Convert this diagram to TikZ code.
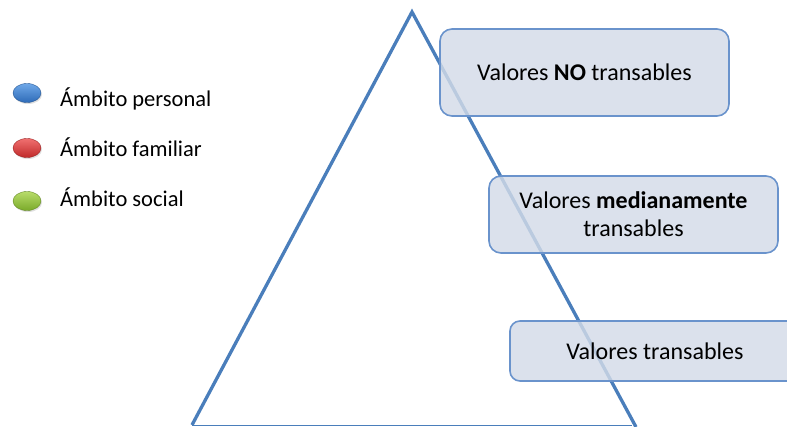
\documentclass[tikz,border=0pt]{standalone}
\usepackage{fontspec}
\setmainfont{Carlito}
\usetikzlibrary{shadows,shapes.geometric}
\definecolor{tri}{HTML}{4A7EBB}
\definecolor{boxfill}{HTML}{D3DBE8}
\definecolor{boxline}{HTML}{6A93CC}
\definecolor{bluetop}{HTML}{6FA8E8}
\definecolor{bluebot}{HTML}{2E6BB8}
\definecolor{redtop}{HTML}{F07070}
\definecolor{redbot}{HTML}{C02A2A}
\definecolor{greentop}{HTML}{B8DC6A}
\definecolor{greenbot}{HTML}{7AAA2A}
\tikzset{
  valbox/.style={draw=boxline, line width=1.6pt, fill=boxfill, fill opacity=0.82, text opacity=1,
    rounded corners=12pt, inner sep=0pt, align=center, font=\fontsize{24}{28}\selectfont},
  ball/.style 2 args={ellipse, minimum width=28pt, minimum height=19pt, inner sep=0pt,
    top color=#1, bottom color=#2, draw=#2!80!black, line width=0.4pt,
    drop shadow={shadow xshift=1pt, shadow yshift=-1.5pt, opacity=0.25}},
  legtext/.style={anchor=west, inner sep=0pt, font=\fontsize{22.5}{26}\selectfont}
}
\begin{document}
\begin{tikzpicture}[x=1pt,y=-1pt]
\useasboundingbox (0,0) rectangle (787,427);
\clip (0,0) rectangle (787,427);
% triangle
\coordinate (apex) at (412,12);
\coordinate (bl) at (192,425);
\coordinate (br) at (636,427);
\coordinate (bl2) at (192,425.5);
\coordinate (br2) at (632,425.5);
\draw[tri, line width=3.3pt, line join=miter] (bl) -- (apex) -- (br);
\draw[tri, line width=1.2pt] (bl2) -- (br2);
% boxes
\node[valbox, minimum width=289pt, minimum height=87pt] (b1) at (584.5,72.5) {Valores \textbf{NO} transables};
\node[valbox, minimum width=289pt, minimum height=77pt] (b2) at (633.5,214.5) {Valores \textbf{medianamente}\\transables};
\node[valbox, minimum width=290pt, minimum height=60pt, rounded corners=10pt] (b3) at (655,351) {Valores transables};
% legend
\node[ball={bluetop}{bluebot}] (lb) at (27,93) {};
\node[ball={redtop}{redbot}] (lr) at (27,148) {};
\node[ball={greentop}{greenbot}] (lg) at (27,201) {};
\node[legtext] (tb) at (60,99) {Ámbito personal};
\node[legtext] (tr) at (60,147) {Ámbito familiar};
\node[legtext] (tg) at (60,197) {Ámbito social};
\end{tikzpicture}
\end{document}
